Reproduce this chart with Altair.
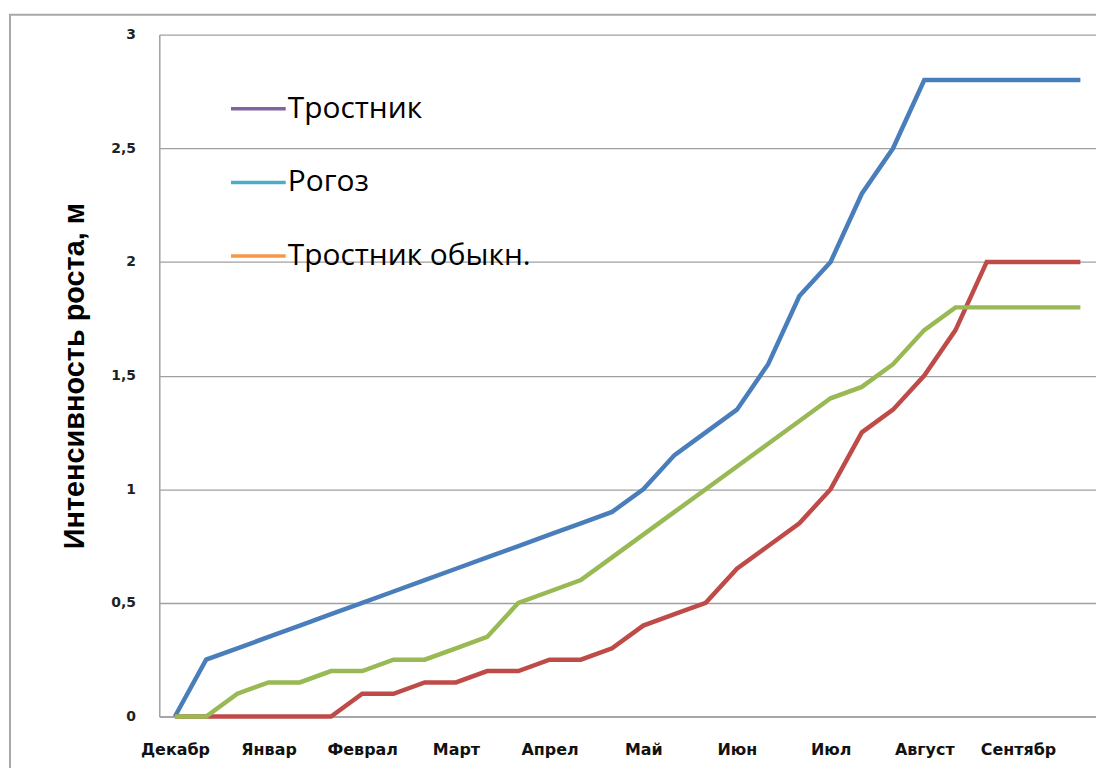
import altair as alt
import pandas as pd

months = ["Декабр", "Январ", "Феврал", "Март", "Апрел", "Май", "Июн", "Июл", "Август", "Сентябр"]
periods_per_month = 3

series_names = ["Ряд 1", "Ряд 2", "Ряд 3"]
line_colors = ["#4A7EBB", "#BE4B48", "#98B954"]
blue_vals = [0, 0.25, 0.3, 0.35, 0.4, 0.45, 0.5, 0.55, 0.6, 0.65,
             0.7, 0.75, 0.8, 0.85, 0.9, 1.0, 1.15, 1.25, 1.35, 1.55,
             1.85, 2.0, 2.3, 2.5, 2.8, 2.8, 2.8, 2.8, 2.8, 2.8]
red_vals = [0, 0, 0, 0, 0, 0, 0.1, 0.1, 0.15, 0.15,
            0.2, 0.2, 0.25, 0.25, 0.3, 0.4, 0.45, 0.5, 0.65, 0.75,
            0.85, 1.0, 1.25, 1.35, 1.5, 1.7, 2.0, 2.0, 2.0, 2.0]
green_vals = [0, 0, 0.1, 0.15, 0.15, 0.2, 0.2, 0.25, 0.25, 0.3,
              0.35, 0.5, 0.55, 0.6, 0.7, 0.8, 0.9, 1.0, 1.1, 1.2,
              1.3, 1.4, 1.45, 1.55, 1.7, 1.8, 1.8, 1.8, 1.8, 1.8]

legend_labels = ["Тростник", "Рогоз", "Тростник обыкн."]
legend_colors = ["#8064A2", "#4BACC6", "#F79646"]

y_ticks = [0, 0.5, 1, 1.5, 2, 2.5, 3]

rows = []
for name, leg, vals in zip(series_names, legend_labels, [blue_vals, red_vals, green_vals]):
    for i, v in enumerate(vals):
        rows.append({"idx": i, "value": v, "series": name, "legend": leg})
df = pd.DataFrame(rows)

month_ticks = [i * periods_per_month for i in range(len(months))]
label_expr = "[" + ",".join("'" + m + "'" for m in months) + "][floor(datum.value / 3)]"

W, H = 941, 685

x_enc = alt.X("idx:O", scale=alt.Scale(type="point", padding=0.5),
              axis=alt.Axis(values=month_ticks, labelExpr=label_expr, labelAngle=0,
                            title=None, ticks=False, domain=True, domainColor="#A0A0A0",
                            domainWidth=1.5, grid=False, labelFont="DejaVu Sans",
                            labelFontWeight="bold", labelFontSize=16, labelColor="#111111",
                            labelPadding=25))
y_enc = alt.Y("value:Q", scale=alt.Scale(domain=[0, 3], nice=False, zero=True),
              axis=alt.Axis(values=y_ticks,
                            labelExpr="replace(format(datum.value, '.1~f'), '.', ',')",
                            title="Интенсивность роста, м", titleFont="Liberation Sans",
                            titleFontWeight="bold", titleFontSize=29, titleColor="#000000",
                            titleAngle=-90, titleX=-85, titleY=H / 2, titleAlign="center",
                            titleBaseline="middle",
                            ticks=False, domain=True, domainColor="#A0A0A0", domainWidth=1.5,
                            grid=True, gridColor="#A0A0A0", gridWidth=1.3,
                            labelFont="DejaVu Sans", labelFontWeight="bold", labelFontSize=14,
                            labelColor="#222222", labelPadding=24))

frame = alt.Chart(pd.DataFrame({"f": [0]})).mark_rect(
    fill=None, stroke="#A8A8A8", strokeWidth=2
).encode(x=alt.value(-150), x2=alt.value(W + 100), y=alt.value(-20), y2=alt.value(H + 200))

legend_layer = alt.Chart(df).mark_line(opacity=0, strokeWidth=3).encode(
    x=x_enc, y=y_enc,
    color=alt.Color("legend:N", scale=alt.Scale(domain=legend_labels, range=legend_colors),
                    legend=alt.Legend(orient="none", legendX=70, legendY=45, title=None,
                                      symbolType="stroke", symbolSize=3025,
                                      symbolStrokeWidth=3.5, symbolOpacity=1,
                                      labelFont="Open Sans", labelFontSize=30,
                                      labelColor="#000000", labelOffset=0,
                                      rowPadding=29, labelLimit=400))
)

lines = alt.Chart(df).mark_line(strokeWidth=4.5, strokeJoin="miter").encode(
    x=x_enc, y=y_enc,
    color=alt.Color("series:N", scale=alt.Scale(domain=series_names, range=line_colors),
                    legend=None),
    detail="series:N",
)

chart = alt.layer(frame, legend_layer, lines).resolve_scale(color="independent").properties(
    width=W, height=H,
    padding={"left": 152, "top": 25, "right": 0, "bottom": 50},
    autosize=alt.AutoSizeParams(type="none"),
    background="white",
).configure_view(stroke=None)

chart.save("out.html", embed_options={"renderer": "svg", "actions": False})
